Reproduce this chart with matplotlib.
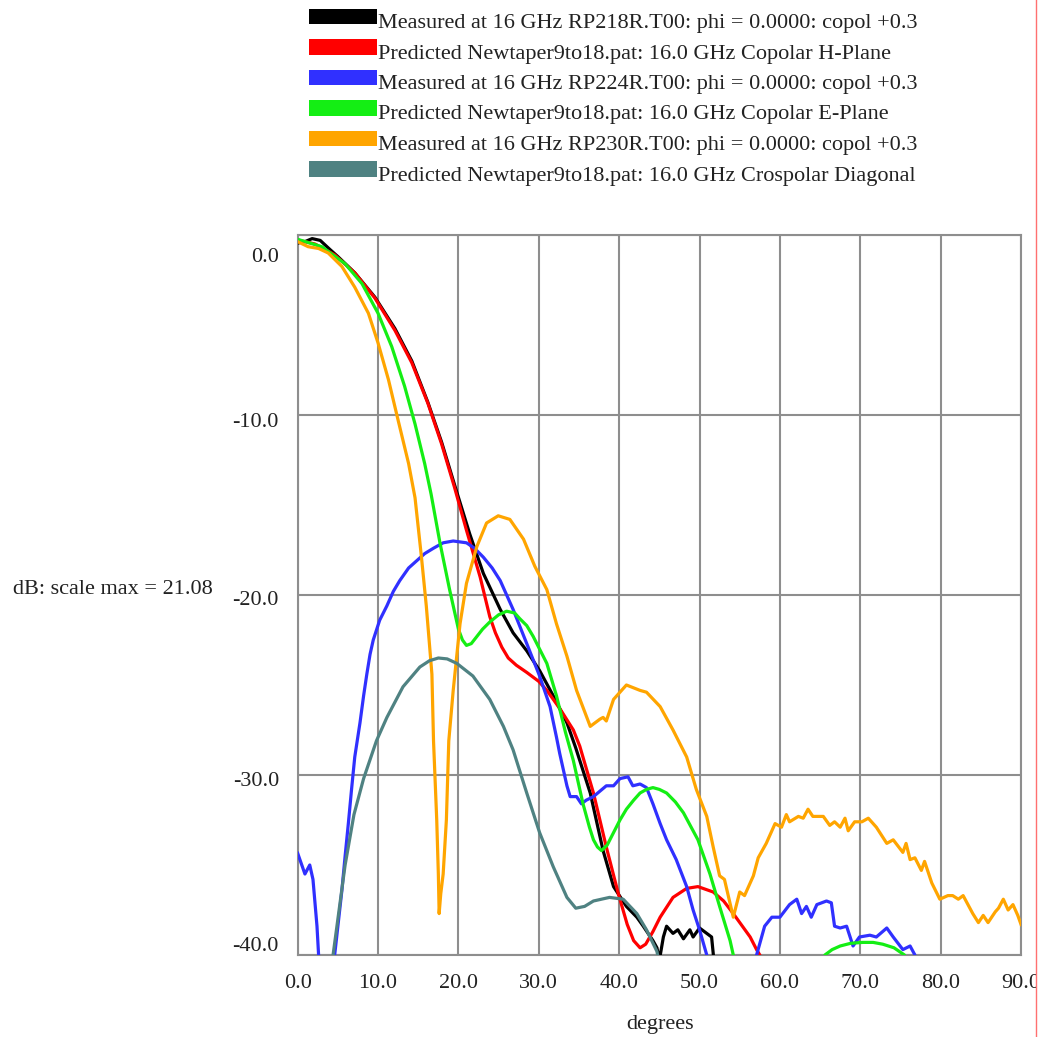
import numpy as np
import matplotlib
matplotlib.use("Agg")
import matplotlib.pyplot as plt
from matplotlib.patches import Rectangle
from matplotlib.lines import Line2D

plt.rcParams['font.family'] = ['Liberation Serif', 'DejaVu Serif']

nan = np.nan

# --- series (degrees, dB) ---
m218_x = [0.0, 1.0, 1.8, 2.8, 4.0, 5.0, 7.1, 9.6, 12.1, 14.2, 16.2, 17.9, 19.6, 21.4, 23.1, 25.2,
          26.8, 28.5, 30.1, 31.8, 33.5, 34.6, 36.4, 38.0, 39.3, 40.9, 42.2, 43.0, 44.2, 44.7, 45.0,
          45.5, 45.9, 46.7, 47.3, 48.0, 48.8, 49.2, 50.0, 50.9, 51.5, 51.7, 52.0]
m218_y = [-0.45, -0.35, -0.2, -0.3, -0.8, -1.2, -2.1, -3.45, -5.2, -7.0, -9.3, -11.5, -14.0, -16.6,
          -18.8, -20.8, -22.1, -23.1, -24.2, -25.6, -27.1, -28.5, -31.0, -34.2, -36.2, -37.3, -37.9,
          -38.4, -39.2, -39.6, -40.3, -39.0, -38.4, -38.8, -38.6, -39.1, -38.6, -39.0, -38.5, -38.8,
          -39.0, -39.9, -41.5]

hplane_x = [0.0, 2.15, 4.6, 7.1, 9.6, 12.1, 14.2, 16.2, 17.9, 19.5, 21.0, 22.7, 23.9, 24.6, 25.4,
            26.2, 27.2, 28.5, 30.0, 31.0, 32.6, 34.3, 35.1, 36.8, 38.4, 39.9, 41.0, 41.8, 42.6,
            43.3, 44.2, 45.1, 46.7, 48.4, 49.8, 51.7, 53.0, 54.2, 56.3, 57.1, 57.5, 58.0]
hplane_y = [-0.28, -0.5, -1.1, -2.1, -3.5, -5.3, -7.1, -9.35, -11.6, -14.0, -16.4, -19.0, -21.2,
            -22.1, -22.9, -23.5, -23.9, -24.3, -24.8, -25.3, -26.3, -27.5, -28.4, -31.0, -34.0,
            -36.6, -38.3, -39.2, -39.6, -39.4, -38.7, -37.9, -36.8, -36.3, -36.2, -36.5, -37.0,
            -37.7, -39.0, -39.7, -40.0, -41.0]

m224_x = [0.0, 0.9, 1.5, 1.9, 2.4, 2.6, 3.0, 4.3, 4.6, 5.05, 5.5, 5.9, 6.3, 6.7, 7.1, 7.75, 8.2,
          8.6, 9.0, 9.4, 10.2, 11.1, 11.9, 12.7, 13.8, 14.8, 15.8, 16.9, 18.1, 19.35, 21.0, 22.0,
          23.1, 24.2, 25.2, 26.8, 28.5, 30.1, 31.4, 32.2, 32.6, 33.5, 33.9, 34.7, 35.3, 35.9,
          36.8, 37.6, 38.4, 39.3, 40.1, 41.1, 41.7, 42.6, 43.4, 44.2, 45.1, 45.9, 47.1, 48.4,
          49.2, 50.0, 50.9, 51.2,
          nan,
          56.8, 57.1, 58.1, 59.0, 60.0, 61.2, 62.1, 62.7, 63.3, 63.9, 64.6, 65.2, 65.8, 66.4,
          66.8, 67.5, 68.3, 69.1, 69.9, 71.2, 72.0, 73.3, 74.1, 75.3, 76.2, 76.8, 77.1]
m224_y = [-34.35, -35.5, -35.0, -35.8, -38.4, -40.0, -42.0, -42.0, -40.0, -38.2, -36.4, -34.5,
          -32.7, -30.8, -29.0, -27.1, -25.6, -24.4, -23.3, -22.5, -21.4, -20.6, -19.8, -19.2,
          -18.5, -18.1, -17.7, -17.4, -17.1, -17.0, -17.1, -17.4, -17.9, -18.5, -19.2, -20.8,
          -22.7, -24.5, -26.2, -27.9, -28.8, -30.6, -31.2, -31.2, -31.6, -31.4, -31.2, -30.9,
          -30.6, -30.6, -30.2, -30.1, -30.6, -30.5, -30.7, -31.6, -32.7, -33.6, -34.7, -36.2,
          -37.5, -38.6, -40.0, -41.0,
          nan,
          -41.0, -40.0, -38.4, -37.9, -37.9, -37.2, -36.9, -37.7, -37.3, -37.9, -37.2, -37.1,
          -37.0, -37.1, -38.4, -38.5, -38.4, -39.5, -39.0, -38.9, -39.0, -38.5, -39.0, -39.7,
          -39.5, -40.0, -41.0]

eplane_x = [0.0, 3.0, 5.9, 8.0, 10.0, 11.7, 13.3, 14.6, 15.8, 16.6, 17.7, 18.9, 20.0, 20.5, 21.0,
            21.6, 22.3, 23.0, 23.9, 25.0, 26.0, 27.0, 27.6, 28.5, 29.3, 31.0, 32.2, 33.3, 34.3,
            35.5, 36.3, 36.8, 37.3, 37.8, 38.5, 39.3, 40.1, 40.9, 41.8, 42.6, 43.4, 44.2, 45.0,
            45.9, 47.0, 48.0, 49.8, 51.3, 52.5, 53.8, 54.2, 54.6,
            nan,
            65.2, 65.6, 66.5, 67.5, 68.8, 70.3, 71.6, 72.8, 74.2, 75.5, 76.0]
eplane_y = [-0.24, -0.65, -1.6, -2.7, -4.35, -6.2, -8.4, -10.5, -12.7, -14.4, -17.1, -19.7, -21.9,
            -22.5, -22.8, -22.7, -22.3, -21.9, -21.5, -21.1, -20.9, -21.0, -21.3, -21.7, -22.3,
            -23.8, -25.6, -27.6, -29.2, -31.6, -32.9, -33.6, -34.0, -34.2, -33.9, -33.2, -32.5,
            -31.9, -31.4, -31.0, -30.8, -30.7, -30.8, -31.0, -31.5, -32.1, -33.6, -35.5, -37.3,
            -39.2, -40.0, -41.0,
            nan,
            -40.5, -40.0, -39.7, -39.5, -39.35, -39.3, -39.3, -39.4, -39.6, -40.0, -40.5]

m230_x = [0.0, 1.3, 2.6, 3.8, 5.5, 7.1, 8.8, 10.0, 11.3, 12.5, 13.8, 14.6, 15.4, 16.0, 16.7, 16.9,
          17.3, 17.5, 17.6, 17.8, 18.1, 18.5, 18.8, 19.35, 20.2, 21.0, 22.3, 23.5, 24.95, 26.4,
          28.1, 29.5, 31.0, 32.2, 33.5, 34.7, 36.4, 37.6, 38.0, 38.4, 39.3, 40.9, 42.6, 43.4,
          45.1, 46.7, 48.4, 49.6, 50.9, 51.7, 52.5, 53.1, 54.2, 55.0, 55.6, 56.7, 57.3, 58.3,
          59.4, 60.2, 60.8, 61.2, 62.3, 62.9, 63.5, 64.1, 65.4, 66.2, 66.8, 67.5, 68.1, 68.5,
          69.3, 70.2, 71.0, 72.0, 73.3, 74.1, 75.3, 75.7, 76.2, 76.8, 77.6, 78.0, 78.9, 79.9,
          80.9, 81.5, 82.2, 82.8, 84.0, 84.7, 85.3, 85.9, 86.8, 87.2, 87.8, 88.4, 89.0, 89.6, 90.0]
m230_y = [-0.37, -0.65, -0.75, -1.0, -1.75, -2.9, -4.35, -6.0, -8.05, -10.3, -12.7, -14.6, -17.9,
          -20.6, -24.4, -28.1, -32.5, -35.5, -37.7, -36.6, -35.5, -32.5, -28.1, -25.3, -21.6,
          -19.35, -17.3, -16.0, -15.6, -15.8, -16.9, -18.4, -19.7, -21.6, -23.4, -25.3, -27.3,
          -26.9, -26.8, -27.0, -25.8, -25.0, -25.3, -25.4, -26.2, -27.5, -29.0, -30.8, -32.3,
          -34.0, -35.6, -35.8, -37.9, -36.5, -36.7, -35.6, -34.6, -33.8, -32.7, -32.9, -32.2,
          -32.6, -32.3, -32.4, -31.9, -32.3, -32.3, -32.8, -32.6, -32.9, -32.4, -33.1, -32.6,
          -32.6, -32.4, -32.9, -33.8, -33.6, -34.3, -33.8, -34.7, -34.6, -35.3, -34.8, -36.0,
          -36.9, -36.7, -36.7, -36.9, -36.7, -37.7, -38.2, -37.8, -38.2, -37.6, -37.4, -36.9,
          -37.5, -37.2, -37.8, -38.3]

xpol_x = [4.2, 4.4, 5.0, 5.9, 7.0, 8.2, 9.8, 11.1, 13.1, 15.2, 16.4, 17.5, 18.6, 19.8, 21.8,
          23.9, 25.6, 26.8, 28.5, 30.1, 31.8, 33.5, 34.6, 35.7, 36.8, 38.8, 40.5, 42.2, 43.4,
          44.7, 45.0]
xpol_y = [-41.0, -40.0, -38.0, -35.0, -32.2, -30.2, -28.1, -26.8, -25.1, -24.0, -23.65, -23.5,
          -23.55, -23.8, -24.5, -25.8, -27.3, -28.6, -31.0, -33.2, -35.1, -36.8, -37.4, -37.3,
          -37.0, -36.8, -36.9, -37.7, -38.6, -39.8, -40.5]

series_x = [m218_x, hplane_x, m224_x, eplane_x, m230_x, xpol_x]
series_y = [m218_y, hplane_y, m224_y, eplane_y, m230_y, xpol_y]
labels = [
    "Measured at 16 GHz RP218R.T00: phi = 0.0000: copol +0.3",
    "Predicted Newtaper9to18.pat: 16.0 GHz Copolar H-Plane",
    "Measured at 16 GHz RP224R.T00: phi = 0.0000: copol +0.3",
    "Predicted Newtaper9to18.pat: 16.0 GHz Copolar E-Plane",
    "Measured at 16 GHz RP230R.T00: phi = 0.0000: copol +0.3",
    "Predicted Newtaper9to18.pat: 16.0 GHz Crospolar Diagonal",
]
colors = ["#000000", "#ff0000", "#3030ff", "#14ee14", "#ffa500", "#4f8282"]

x_ticks = [0, 10, 20, 30, 40, 50, 60, 70, 80, 90]
y_ticks = [0, -10, -20, -30, -40]
# label nudges (dB) so the end labels sit inside the frame
y_label_shift = {0: -1.25, -10: -0.4, -20: -0.3, -30: -0.35, -40: 0.45}

W, H = 1042, 1037
fig = plt.figure(figsize=(W / 100, H / 100), dpi=100)
ax = fig.add_axes([297.7 / W, 82 / H, 723.3 / W, 720 / H])

grid_c = "#8e8e8e"
for i in range(len(series_x)):
    ax.plot(np.array(series_x[i], dtype=float), np.array(series_y[i], dtype=float),
            color=colors[i], lw=2.3, solid_joinstyle="round", zorder=3 + i)

ax.set_xlim(0, 90)
ax.set_ylim(-40, 0)
ax.set_xticks(x_ticks)
ax.set_yticks(y_ticks)
ax.set_xticklabels([])
ax.set_yticklabels([])
ax.tick_params(length=0)
ax.grid(True, color=grid_c, lw=1.5)
ax.set_axisbelow(True)
for s in ax.spines.values():
    s.set_color(grid_c)
    s.set_linewidth(1.5)

fs = 16
for xv in x_ticks:
    ax.text(xv, -0.040, f"{xv:.1f}", transform=ax.get_xaxis_transform(),
            ha="center", va="center", fontsize=fs, color="#222222")
for yv in y_ticks:
    ax.text(-0.026, yv + y_label_shift[yv], f"{yv:.1f}", transform=ax.get_yaxis_transform(),
            ha="right", va="center", fontsize=fs, color="#222222")

fig.text(660 / W, 1 - 1025 / H, "degrees", ha="center", va="center", fontsize=fs, color="#222222")
fig.text(13 / W, 1 - 590 / H, "dB: scale max = 21.08", ha="left", va="center",
         fontsize=fs, color="#222222")

# legend block at the top
for i, lab in enumerate(labels):
    top = 9 + 30.5 * i
    fig.add_artist(Rectangle((309 / W, 1 - (top + 15) / H), 68 / W, 15 / H,
                             transform=fig.transFigure, color=colors[i], lw=0))
    fig.text(378 / W, 1 - (top + 14.5) / H, lab, ha="left", va="center",
             fontsize=fs, color="#222222")

# page edge marker at the right
fig.add_artist(Rectangle((1037 / W, 0), 5 / W, 1, transform=fig.transFigure,
                         color="white", lw=0, zorder=20))
fig.add_artist(Line2D([1036 / W, 1036 / W], [0, 1], transform=fig.transFigure,
                      color="#ff7070", lw=1.0, zorder=21))

fig.savefig("out.png", dpi=100)
